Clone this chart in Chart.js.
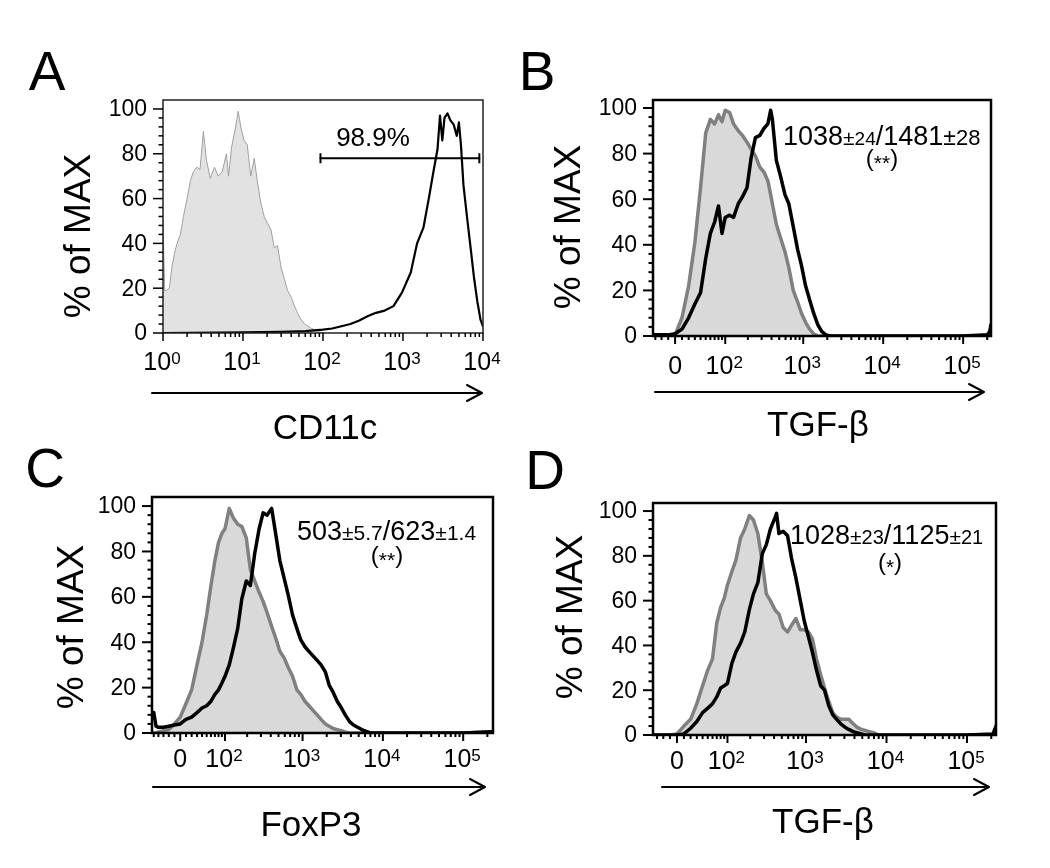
<!DOCTYPE html>
<html>
<head>
<meta charset="utf-8">
<script src="https://cdn.jsdelivr.net/npm/chart.js@4.4.1/dist/chart.umd.min.js"></script>
<style>
html,body{margin:0;padding:0;background:#fff;}
#wrap{position:relative;width:1050px;height:868px;overflow:hidden;font-family:"Liberation Sans",Arial,Helvetica,sans-serif;color:#000;}
canvas{position:absolute;left:0;top:0;pointer-events:none;}
.t{position:absolute;white-space:nowrap;line-height:1;transform:translate(-50%,-50%);}
.letter{font-size:55px;}
.ytitle{font-size:37px;transform:translate(-50%,-50%) rotate(-90deg);}
.xtitle{font-size:35px;}
.ann{position:absolute;white-space:nowrap;line-height:1;transform:translateY(-50%);}
.big{font-size:27px;}
.pm{font-size:21px;}
.sm{font-size:20px;}
.star{font-size:24px;}
.star span{position:relative;top:4px;font-size:21px;}
svg{position:absolute;left:0;top:0;}
</style>
</head>
<body>
<div id="wrap">
  <canvas id="cA" width="1050" height="868"></canvas>
  <canvas id="cB" width="1050" height="868"></canvas>
  <canvas id="cC" width="1050" height="868"></canvas>
  <canvas id="cD" width="1050" height="868"></canvas>

  <svg width="1050" height="868">
    <g stroke="#000" stroke-width="2" fill="none" stroke-linecap="round" stroke-linejoin="round">
      <line x1="152" y1="393" x2="481" y2="393"/><polyline points="467,385 482,393 467,401"/>
      <line x1="655" y1="392" x2="983" y2="392"/><polyline points="969,384 984,392 969,400"/>
      <line x1="153" y1="787" x2="484" y2="787"/><polyline points="470,779 485,787 470,795"/>
      <line x1="662" y1="787" x2="988" y2="787"/><polyline points="974,779 989,787 974,795"/>
    </g>
  </svg>

  <div class="t letter" style="left:47px;top:71px;">A</div>
  <div class="t letter" style="left:537px;top:71px;">B</div>
  <div class="t letter" style="left:45px;top:468px;">C</div>
  <div class="t letter" style="left:545px;top:470px;">D</div>

  <div class="t ytitle" style="left:77px;top:236px;">% of MAX</div>
  <div class="t ytitle" style="left:567px;top:227px;">% of MAX</div>
  <div class="t ytitle" style="left:70px;top:627px;">% of MAX</div>
  <div class="t ytitle" style="left:569px;top:617px;">% of MAX</div>

  <div class="t xtitle" style="left:325px;top:426px;">CD11c</div>
  <div class="t xtitle" style="left:818px;top:423px;">TGF-β</div>
  <div class="t xtitle" style="left:311px;top:823px;">FoxP3</div>
  <div class="t xtitle" style="left:823px;top:820px;">TGF-β</div>

  <div class="t" style="left:373px;top:137px;font-size:26px;">98.9%</div>

  <div class="ann" style="left:783px;top:136px;"><span class="big">1038</span><span class="pm">±</span><span class="sm" style="font-size:19px">24</span><span class="big">/1481</span><span class="pm" style="font-size:23px">±</span><span class="sm" style="font-size:22px">28</span></div>
  <div class="t star" style="left:882px;top:158px;">(<span>**</span>)</div>

  <div class="ann" style="left:297px;top:531px;"><span class="big">503</span><span class="pm">±</span><span class="sm" style="font-size:21px">5.7</span><span class="big">/623</span><span class="pm">±</span><span class="sm" style="font-size:21px">1.4</span></div>
  <div class="t star" style="left:387px;top:555px;">(<span>**</span>)</div>

  <div class="ann" style="left:790px;top:535px;"><span class="big">1028</span><span class="pm">±</span><span class="sm">23</span><span class="big">/1125</span><span class="pm">±</span><span class="sm">21</span></div>
  <div class="t star" style="left:890px;top:562px;">(<span>*</span>)</div>
</div>

<script>
// ---------------- DATA ----------------
// Panel A: CD11c (log axis)
const aGrayX  = [1, 1.02, 1.05, 1.1, 1.2, 1.3, 1.4, 1.5, 1.65, 1.8, 2, 2.2, 2.4, 2.65, 2.9, 3.2, 3.5, 3.9, 4.4, 4.9, 5.5, 6.2, 6.6, 7.2, 7.9, 8.7, 9.5, 10.3, 11.3, 12.5, 13.8, 15.2, 16.7, 18.4, 20.3, 22.4, 24.6, 27, 30, 33, 36, 40, 44, 48, 53, 59, 65, 72, 79, 87, 96, 106];
const aGrayY  = [50, 50, 19, 19, 20, 30, 36, 40, 44, 52, 60, 68, 72, 74, 73, 90, 77, 69, 74, 70, 72, 80, 70, 83, 90, 99, 91, 86, 84, 70, 78, 67, 58, 52, 49, 46, 38, 39, 29, 24, 19, 16, 12, 9, 6, 4, 3, 2, 1.5, 0.5, 0.3, 0];
const aBlackX = [1, 10, 30, 60, 100, 130, 170, 220, 280, 360, 460, 590, 760, 970, 1250, 1500, 1800, 2100, 2400, 2700, 2900, 3100, 3300, 3600, 3900, 4300, 4700, 5000, 5300, 5700, 6300, 7000, 7700, 8500, 9300, 10000];
const aBlackY = [0, 0.3, 0.5, 0.8, 1.5, 2, 3, 4, 5.5, 7.5, 9, 10, 12, 18, 27, 40, 47, 60, 72, 82, 97, 86, 96, 98, 95, 93, 88, 94, 84, 66, 52, 38, 25, 14, 6, 3];
const aGateX  = [93, 9000];
const aGateY  = 78;

// Panel B: TGF-beta
const bX      = [-34, -30, -20, -10, 0, 10, 20, 30, 40, 50, 60, 70, 80, 90, 100, 115, 130, 150, 170, 195, 220, 250, 285, 320, 360, 390, 410, 460, 520, 590, 660, 750, 850, 950, 1070, 1200, 1350, 1520, 1700, 1920, 2150, 2400, 5000, 20000, 100000, 200000, 215000, 223000];
const bBlackY = [0.5, 0.5, 0.5, 0.5, 1, 3, 8, 14, 19, 34, 45, 50, 57, 45, 52, 53, 52, 58, 61, 65, 78, 87, 88, 91, 93, 99, 95, 77, 70, 62, 58, 48, 38, 31, 22, 16, 10, 5, 2, 0.5, 0, 0, 0, 0, 0, 0.5, 2, 5];
const bGrayY  = [0, 0, 0, 0, 0.5, 8, 22, 41, 65, 89, 95, 93, 97, 94, 99, 98, 93, 90, 88, 85, 82, 79, 74, 72, 68, 62, 58, 49, 43, 37, 30, 20, 15, 10, 6, 3, 1, 0, 0, 0, 0, 0, 0, 0, 0, 0, 0, 0.5];

// Panel C: FoxP3
const cX      = [-54, -50, -45, -40, -30, -20, -10, 0, 10, 20, 30, 40, 50, 60, 70, 80, 90, 100, 115, 130, 150, 170, 195, 220, 250, 285, 320, 360, 410, 460, 520, 590, 660, 750, 850, 950, 1070, 1200, 1350, 1520, 1700, 1920, 2150, 2400, 2700, 3050, 3400, 3850, 4300, 4850, 5450, 6100, 7000, 20000, 100000, 235000];
const cBlackY = [9, 9, 3, 2.5, 2.5, 3, 3.5, 4, 6, 7, 9, 11, 12, 14, 17, 19, 22, 25, 30, 37, 46, 59, 67, 65, 79, 90, 97, 96, 99, 88, 76, 68, 61, 52, 46, 41, 38, 36, 34, 32, 30, 27, 21, 18, 14, 11, 8, 5, 3.5, 2.5, 1.5, 0.8, 0, 0, 0, 0.5];
const cGrayY  = [0, 0, 0, 0.5, 1, 1.5, 4, 7, 13, 19, 30, 40, 52, 65, 76, 84, 88, 90, 99, 95, 92, 91, 86, 72, 67, 62, 58, 53, 47, 42, 36, 33, 29, 25, 19, 17, 14, 12, 10, 8, 6, 4, 3, 2, 1.5, 1, 0.5, 0, 0, 0, 0, 0, 0, 0, 0, 0.5];

// Panel D: TGF-beta
const dX      = [-37, -30, -20, -10, 0, 10, 20, 30, 40, 50, 60, 70, 80, 90, 100, 115, 130, 150, 170, 195, 220, 250, 285, 320, 360, 410, 430, 460, 520, 590, 660, 750, 850, 950, 1070, 1200, 1350, 1520, 1700, 1920, 2150, 2400, 2700, 3050, 3400, 3850, 4300, 4850, 5450, 6100, 7000, 8000, 20000, 100000, 210000, 229000];
const dBlackY = [0, 0, 0, 0, 0, 0.5, 3, 6, 10, 12, 14, 17, 21, 22, 23, 32, 37, 41, 46, 56, 63, 68, 81, 85, 92, 97, 99, 90, 91, 89, 79, 70, 60, 51, 44, 37, 29, 22, 20, 13, 9, 7, 5, 3.5, 2.5, 1.5, 1, 0.5, 0, 0, 0, 0, 0, 0, 0.5, 4];
const dGrayY  = [0, 0, 0, 0, 0.5, 4, 7, 14, 22, 29, 34, 50, 57, 61, 67, 73, 78, 88, 92, 98, 96, 90, 77, 63, 60, 56, 55, 54, 48, 46, 49, 52, 47, 47, 46, 43, 34, 27, 21, 15, 10, 8, 7, 7, 7, 5, 3.5, 2.5, 2, 1.5, 1, 0, 0, 0, 0, 0.5];

// Axis ticks and labels
const yMajorTicks = [0, 20, 40, 60, 80, 100];
const yTickLabels = ['0', '20', '40', '60', '80', '100'];
const yMinorTicks = [4, 8, 12, 16, 24, 28, 32, 36, 44, 48, 52, 56, 64, 68, 72, 76, 84, 88, 92, 96];

const logMajorTicks = [1, 10, 100, 1000, 10000];
const logTickLabels = [['10', '0'], ['10', '1'], ['10', '2'], ['10', '3'], ['10', '4']];
const logMinorTicks = [2, 3, 4, 5, 6, 7, 8, 9, 20, 30, 40, 50, 60, 70, 80, 90, 200, 300, 400, 500, 600, 700, 800, 900, 2000, 3000, 4000, 5000, 6000, 7000, 8000, 9000];

const biexMajorTicks = [0, 100, 1000, 10000, 100000];
const biexTickLabels = [['0', ''], ['10', '2'], ['10', '3'], ['10', '4'], ['10', '5']];
const biexMinorTicks = [-50, -40, -30, -20, -10, 10, 20, 30, 40, 50, 60, 70, 80, 90, 200, 300, 400, 500, 600, 700, 800, 900, 2000, 3000, 4000, 5000, 6000, 7000, 8000, 9000, 20000, 30000, 40000, 50000, 60000, 70000, 80000, 90000, 200000];

// ---------------- RENDERING ----------------
const FF = '"Liberation Sans", Arial, Helvetica, sans-serif';
Chart.defaults.font.family = FF;

// Biexponential (arcsinh) display scale, as used by flow cytometry software
class BiexScale extends Chart.LinearScale {
  static id = 'biex';
  static defaults = {};
  buildTicks() { return biexMajorTicks.map(v => ({ value: v })); }
  _tr(v) { const w = PANEL_CFG[this.chart.canvas.id].biexW; return Math.asinh(v / (2 * w)) / Math.LN10; }
  configure() {
    super.configure();
    this._tLo = this._tr(this.min);
    this._tHi = this._tr(this.max);
  }
  getPixelForValue(v) {
    return this.getPixelForDecimal((this._tr(v) - this._tLo) / (this._tHi - this._tLo));
  }
  getValueForPixel(p) {
    const w = PANEL_CFG[this.chart.canvas.id].biexW;
    const t = this._tLo + this.getDecimalForPixel(p) * (this._tHi - this._tLo);
    return 2 * w * Math.sinh(t * Math.LN10);
  }
}
Chart.register(BiexScale);

const PANEL_CFG = {
  cA: { pad: { left: 163, top: 100, right: 567, bottom: 535 }, ymax: 104, xmin: 1, xmax: 10000, type: 'logarithmic',
        box: 1.5, boxColor: '#222', tickW: 1.5, labOff: 28 },
  cB: { pad: { left: 653, top: 100, right: 59, bottom: 532 }, ymax: 103.5, xmin: -34, xmax: 223000, type: 'biex', biexW: 25,
        box: 2.5, boxColor: '#000', tickW: 2, labOff: 29 },
  cC: { pad: { left: 152, top: 497, right: 557, bottom: 135 }, ymax: 104, xmin: -54, xmax: 235000, type: 'biex', biexW: 30,
        box: 2.5, boxColor: '#000', tickW: 2, labOff: 25 },
  cD: { pad: { left: 653, top: 503, right: 54, bottom: 133 }, ymax: 103.6, xmin: -37, xmax: 229000, type: 'biex', biexW: 25,
        box: 2.5, boxColor: '#000', tickW: 2, labOff: 25 }
};

function pts(xs, ys) { return xs.map((x, i) => ({ x: x, y: ys[i] })); }

const axesPlugin = {
  id: 'flowAxes',
  afterDraw(chart) {
    const cfg = PANEL_CFG[chart.canvas.id];
    const ctx = chart.ctx, ca = chart.chartArea, xs = chart.scales.x, ys = chart.scales.y;
    ctx.save();
    ctx.strokeStyle = cfg.boxColor;
    ctx.lineWidth = cfg.box;
    ctx.strokeRect(ca.left, ca.top, ca.right - ca.left, ca.bottom - ca.top);

    ctx.strokeStyle = '#000';
    ctx.lineWidth = cfg.tickW;
    ctx.lineCap = 'butt';
    // y ticks
    const hline = (v, len) => { const py = ys.getPixelForValue(v); ctx.beginPath(); ctx.moveTo(ca.left - len, py); ctx.lineTo(ca.left, py); ctx.stroke(); };
    yMinorTicks.forEach(v => hline(v, 4.5));
    yMajorTicks.forEach(v => hline(v, 10));
    ctx.fillStyle = '#000';
    ctx.font = '23px ' + FF;
    ctx.textAlign = 'right';
    ctx.textBaseline = 'middle';
    yMajorTicks.forEach((v, i) => ctx.fillText(yTickLabels[i], ca.left - 16, ys.getPixelForValue(v) + 1));

    // x ticks
    const isLog = cfg.type === 'logarithmic';
    const majors = isLog ? logMajorTicks : biexMajorTicks;
    const minors = isLog ? logMinorTicks : biexMinorTicks;
    const labels = isLog ? logTickLabels : biexTickLabels;
    const vline = (v, len) => {
      if (v < cfg.xmin || v > cfg.xmax) return;
      const px = xs.getPixelForValue(v); ctx.beginPath(); ctx.moveTo(px, ca.bottom); ctx.lineTo(px, ca.bottom + len); ctx.stroke();
    };
    minors.forEach(v => vline(v, 4));
    majors.forEach(v => vline(v, 8));
    ctx.textAlign = 'left';
    ctx.textBaseline = 'alphabetic';
    majors.forEach((v, i) => {
      const px = xs.getPixelForValue(v), cy = ca.bottom + cfg.labOff;
      const base = labels[i][0], exp = labels[i][1];
      ctx.font = '25px ' + FF; const wb = ctx.measureText(base).width;
      ctx.font = '17px ' + FF; const we = exp ? ctx.measureText(exp).width : 0;
      const x0 = px - (wb + we) / 2 - (exp ? 1 : 0);
      ctx.font = '25px ' + FF; ctx.fillText(base, x0, cy + 9);
      if (exp) { ctx.font = '17px ' + FF; ctx.fillText(exp, x0 + wb, cy + 2.5); }
    });
    ctx.restore();
  }
};

function makeChart(id, datasets) {
  const cfg = PANEL_CFG[id];
  return new Chart(document.getElementById(id), {
    type: 'line',
    data: { datasets: datasets },
    options: {
      responsive: false,
      animation: false,
      devicePixelRatio: 1,
      parsing: true,
      layout: { padding: cfg.pad, autoPadding: false },
      plugins: { legend: { display: false }, tooltip: { enabled: false }, title: { display: false } },
      elements: { point: { radius: 0 }, line: { tension: 0, borderJoinStyle: 'round', borderCapStyle: 'round' } },
      scales: {
        x: { type: cfg.type, position: 'bottom', min: cfg.xmin, max: cfg.xmax,
             grid: { display: false }, border: { display: false }, ticks: { display: false },
             afterFit: s => { s.height = 0; } },
        y: { type: 'linear', position: 'left', min: 0, max: cfg.ymax,
             grid: { display: false }, border: { display: false }, ticks: { display: false },
             afterFit: s => { s.width = 0; } }
      }
    },
    plugins: [axesPlugin]
  });
}

const GRAY_FILL = '#d9d9d9';
const GRAY_LINE = '#808080';

makeChart('cA', [
  { data: pts(aGateX, [aGateY, aGateY]), borderColor: '#000', borderWidth: 2, order: 0,
    pointStyle: 'line', pointRotation: 90, pointRadius: 5, pointBorderWidth: 2, pointBorderColor: '#000', fill: false },
  { data: pts(aBlackX, aBlackY), borderColor: '#000', borderWidth: 2.2, fill: false, order: 1 },
  { data: pts(aGrayX, aGrayY), borderColor: '#a0a0a0', borderWidth: 1, backgroundColor: '#e2e2e2', fill: 'origin', order: 2 }
]);

makeChart('cB', [
  { data: pts(bX, bBlackY), borderColor: '#000', borderWidth: 3.5, fill: false, order: 0 },
  { data: pts(bX, bGrayY), borderColor: GRAY_LINE, borderWidth: 3.5, backgroundColor: GRAY_FILL, fill: 'origin', order: 1 }
]);

makeChart('cC', [
  { data: pts(cX, cBlackY), borderColor: '#000', borderWidth: 3.5, fill: false, order: 0 },
  { data: pts(cX, cGrayY), borderColor: GRAY_LINE, borderWidth: 3.5, backgroundColor: GRAY_FILL, fill: 'origin', order: 1 }
]);

makeChart('cD', [
  { data: pts(dX, dBlackY), borderColor: '#000', borderWidth: 3.5, fill: false, order: 0 },
  { data: pts(dX, dGrayY), borderColor: GRAY_LINE, borderWidth: 3.5, backgroundColor: GRAY_FILL, fill: 'origin', order: 1 }
]);
</script>
</body>
</html>
